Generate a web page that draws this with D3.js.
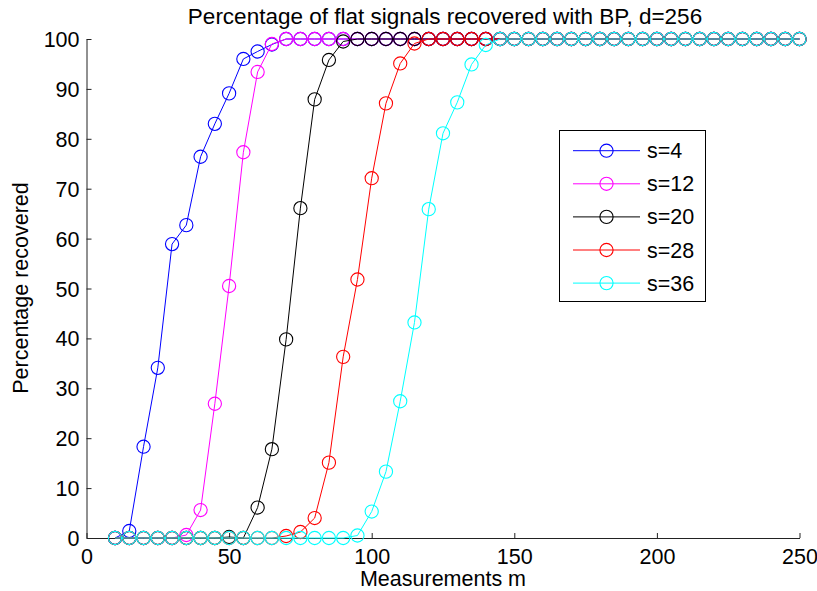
<!DOCTYPE html>
<html><head><meta charset="utf-8">
<script src="https://cdn.jsdelivr.net/npm/d3@7"></script>
<style>html,body{margin:0;padding:0;background:#fff;}svg{display:block;font-family:"Liberation Sans",Arial,sans-serif;}</style>
</head><body>
<svg id="chart" width="817" height="591"></svg>
<script>
const measurements = [10,15,20,25,30,35,40,45,50,55,60,65,70,75,80,85,90,95,100,105,110,115,120,125,130,135,140,145,150,155,160,165,170,175,180,185,190,195,200,205,210,215,220,225,230,235,240,245,250];
const s4  = [0,1.4,18.3,34.1,58.9,62.7,76.4,83.0,89.1,96.0,97.5,98.9,100,100,100,100,100,100,100,100,100,100,100,100,100,100,100,100,100,100,100,100,100,100,100,100,100,100,100,100,100,100,100,100,100,100,100,100,100];
const s12 = [0,0,0,0,0,0.6,5.6,26.9,50.5,77.3,93.4,99.0,100,100,100,100,100,100,100,100,100,100,100,100,100,100,100,100,100,100,100,100,100,100,100,100,100,100,100,100,100,100,100,100,100,100,100,100,100];
const s20 = [0,0,0,0,0,0,0,0,0.2,0,6.1,17.8,39.8,66.1,87.9,95.8,99.5,100,100,100,100,100,100,100,100,100,100,100,100,100,100,100,100,100,100,100,100,100,100,100,100,100,100,100,100,100,100,100,100];
const s28 = [0,0,0,0,0,0,0,0,0,0,0,0,0.4,1.2,4.0,15.1,36.3,51.8,72.1,87.1,95.1,99.1,100,100,100,100,100,100,100,100,100,100,100,100,100,100,100,100,100,100,100,100,100,100,100,100,100,100,100];
const s36 = [0,0,0,0,0,0,0,0,0,0,0,0,0,0,0,0,0,0.5,5.3,13.3,27.4,43.2,65.9,81.1,87.3,94.9,98.8,100,100,100,100,100,100,100,100,100,100,100,100,100,100,100,100,100,100,100,100,100,100];
const seriesNames = ["s=4","s=12","s=20","s=28","s=36"];
const seriesColors = ["#0000ff","#ff00ff","#000000","#ff0000","#00ffff"];
const xTicks = [0,50,100,150,200,250];
const yTicks = [0,10,20,30,40,50,60,70,80,90,100];
const titleText = "Percentage of flat signals recovered with BP, d=256";
const xLabel = "Measurements m";
const yLabel = "Percentage recovered";

const allSeries = [s4,s12,s20,s28,s36];
const svg = d3.select("#chart");
const x = d3.scaleLinear().domain([0,250]).range([86.5,799.5]);
const y = d3.scaleLinear().domain([0,100]).range([538,39]);
const FS = 21.5;

// axes
const xAxis = svg.append("g").attr("transform","translate(0,538)")
  .call(d3.axisBottom(x).tickValues(xTicks).tickSizeInner(-5).tickSizeOuter(0).tickPadding(9));
const yAxis = svg.append("g").attr("transform","translate(86.5,0)")
  .call(d3.axisLeft(y).tickValues(yTicks).tickSizeInner(-5).tickSizeOuter(0).tickPadding(7));
[xAxis,yAxis].forEach(g=>{
  g.select(".domain").attr("stroke","#222").attr("stroke-width",1);
  g.selectAll(".tick line").attr("stroke","#222");
  g.selectAll(".tick text").attr("fill","#000").attr("font-size",FS).attr("font-family","Liberation Sans, Arial, sans-serif");
});
xAxis.selectAll(".tick text").attr("dy","0.8em");
yAxis.selectAll(".tick text").attr("dy","0.35em");

// series
const line = d3.line().x((d,i)=>x(measurements[i])).y(d=>y(d));
allSeries.forEach((vals,k)=>{
  const g = svg.append("g");
  g.append("path").datum(vals).attr("d",line).attr("fill","none")
    .attr("stroke",seriesColors[k]).attr("stroke-width",1);
  g.selectAll("circle").data(vals).enter().append("circle")
    .attr("cx",(d,i)=>x(measurements[i])).attr("cy",d=>y(d)).attr("r",6.6)
    .attr("fill","none").attr("stroke",seriesColors[k]).attr("stroke-width",1.1);
});

// title & labels
svg.append("text").attr("x",445).attr("y",24).attr("text-anchor","middle")
  .attr("font-size",22.5).attr("fill","#000").text(titleText);
svg.append("text").attr("x",443).attr("y",586).attr("text-anchor","middle")
  .attr("font-size",FS).attr("fill","#000").text(xLabel);
svg.append("text").attr("transform","translate(28,288) rotate(-90)").attr("text-anchor","middle")
  .attr("font-size",FS).attr("fill","#000").text(yLabel);

// legend
const lg = svg.append("g");
lg.append("rect").attr("x",559.5).attr("y",130.5).attr("width",146).attr("height",171)
  .attr("fill","#fff").attr("stroke","#000").attr("stroke-width",1);
seriesNames.forEach((name,k)=>{
  const yy = 150.7 + k*33.1;
  lg.append("line").attr("x1",573).attr("x2",640).attr("y1",yy).attr("y2",yy)
    .attr("stroke",seriesColors[k]).attr("stroke-width",1);
  lg.append("circle").attr("cx",606.5).attr("cy",yy).attr("r",6.6)
    .attr("fill","none").attr("stroke",seriesColors[k]).attr("stroke-width",1.1);
  lg.append("text").attr("x",647).attr("y",yy).attr("dy","0.35em")
    .attr("font-size",FS).attr("fill","#000").text(name);
});
</script>
</body></html>
